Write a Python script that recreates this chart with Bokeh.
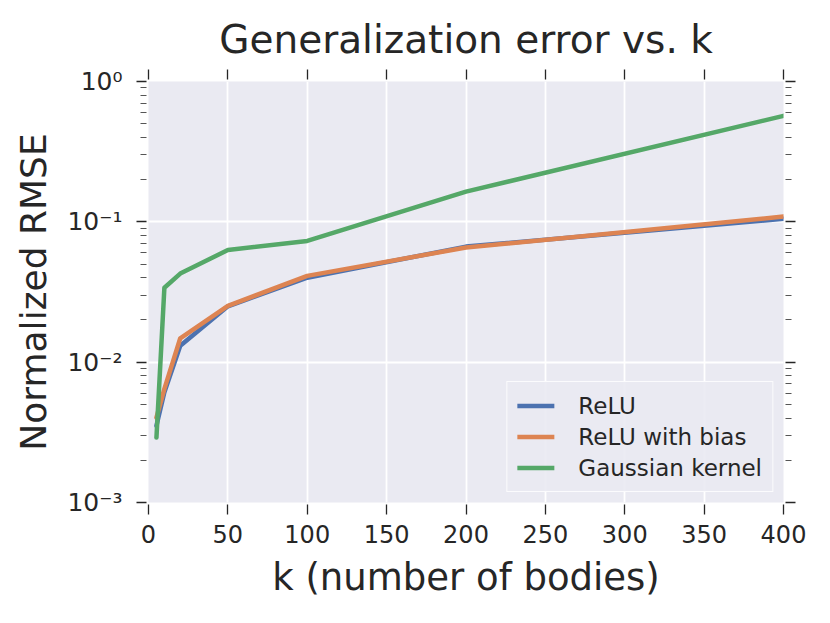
from bokeh.plotting import figure
from bokeh.models import LinearAxis, LogAxis, FixedTicker
from bokeh.embed import file_html
from bokeh.resources import INLINE

# ---- data ----
k = [5, 10, 20, 50, 100, 200, 400]
relu = [0.00352, 0.0061, 0.0131, 0.0250, 0.0400, 0.0666, 0.105]
relu_bias = [0.00403, 0.00645, 0.0148, 0.0252, 0.0412, 0.0656, 0.109]
gauss = [0.00290, 0.0339, 0.0428, 0.063, 0.0731, 0.164, 0.569]

series_names = ["ReLU", "ReLU with bias", "Gaussian kernel"]
series_colors = ["#4C72B0", "#DD8452", "#55A868"]

x_ticks = [0, 50, 100, 150, 200, 250, 300, 350, 400]
y_ticks = [0.001, 0.01, 0.1, 1.0]
y_tick_labels = ["10\u207b\u00b3", "10\u207b\u00b2", "10\u207b\u00b9", "10\u2070"]
y_minor_mult = [2, 3, 4, 5, 6, 7, 8, 9]

title_text = "Generalization error vs. k"
x_label = "k (number of bodies)"
y_label = "Normalized RMSE"

FONT = "DejaVu Sans"
TXT = "#262626"
BG = "#EAEAF2"

y_minor = [m * t for t in y_ticks[:-1] for m in y_minor_mult]

p = figure(width=814, height=607, x_range=(0, 400), y_range=(0.001, 1.0),
           y_axis_type="log", output_backend="svg", toolbar_location=None,
           min_border_left=148, min_border_right=31, min_border_top=81,
           min_border_bottom=105)

p.background_fill_color = BG
p.border_fill_color = "white"
p.outline_line_color = None

for y, name, col in zip([relu, relu_bias, gauss], series_names, series_colors):
    p.line(k, y, line_width=4.5, color=col, legend_label=name,
           line_cap="round", line_join="round")

xt = FixedTicker(ticks=x_ticks, minor_ticks=[])
yt = FixedTicker(ticks=y_ticks, minor_ticks=y_minor)

bottom = p.below[0]
left = p.left[0]

bottom.ticker = xt
left.ticker = yt
left.major_label_overrides = {t: lab for t, lab in zip(y_ticks, y_tick_labels)}

top = LinearAxis(ticker=xt)
right = LogAxis(ticker=yt)
top.major_label_overrides = {t: "" for t in x_ticks}
right.major_label_overrides = {t: "" for t in y_ticks}
p.add_layout(top, "above")
p.add_layout(right, "right")

for ax in [bottom, left, top, right]:
    ax.axis_line_color = None
    ax.major_tick_line_color = TXT
    ax.major_tick_line_width = 1.3
    ax.minor_tick_line_color = "#555555"
    ax.minor_tick_line_width = 1.0
    ax.major_tick_in = -2
    ax.major_tick_out = 12
    ax.minor_tick_in = -2
    ax.minor_tick_out = 8
    ax.major_label_text_font = FONT
    ax.major_label_text_color = TXT
    ax.major_label_text_font_size = "24px"
    ax.axis_label_text_font = FONT
    ax.axis_label_text_color = TXT
    ax.axis_label_text_font_size = "36px"
    ax.axis_label_text_font_style = "normal"

for ax in [bottom, top]:
    ax.minor_tick_line_color = None

for ax in [top, right]:
    ax.major_label_standoff = 0

left.major_label_text_font_size = "25px"
bottom.major_label_standoff = 10
left.major_label_standoff = 14
bottom.axis_label = x_label
left.axis_label = y_label
bottom.axis_label_text_font_size = "37px"
bottom.axis_label_standoff = 10
left.axis_label_standoff = 10

p.xgrid.ticker = xt
p.ygrid.ticker = yt
for g in [p.xgrid[0], p.ygrid[0]]:
    g.grid_line_color = "white"
    g.grid_line_width = 1.8
    g.minor_grid_line_color = None

p.title.text = title_text
p.title.text_font = FONT
p.title.text_font_size = "39px"
p.title.text_font_style = "normal"
p.title.text_color = TXT
p.title.align = "center"
p.title.standoff = 15

lg = p.legend[0]
lg.location = "bottom_right"
lg.margin = 10
lg.padding = 10
lg.spacing = 4
lg.glyph_width = 37
lg.glyph_height = 27
lg.label_height = 27
lg.label_standoff = 24
lg.label_text_font = FONT
lg.label_text_font_size = "23px"
lg.label_text_color = TXT
lg.background_fill_color = BG
lg.background_fill_alpha = 0.9
lg.border_line_color = "white"
lg.border_line_alpha = 0.8
lg.border_line_width = 1

open("out.html", "w").write(file_html(p, INLINE))
